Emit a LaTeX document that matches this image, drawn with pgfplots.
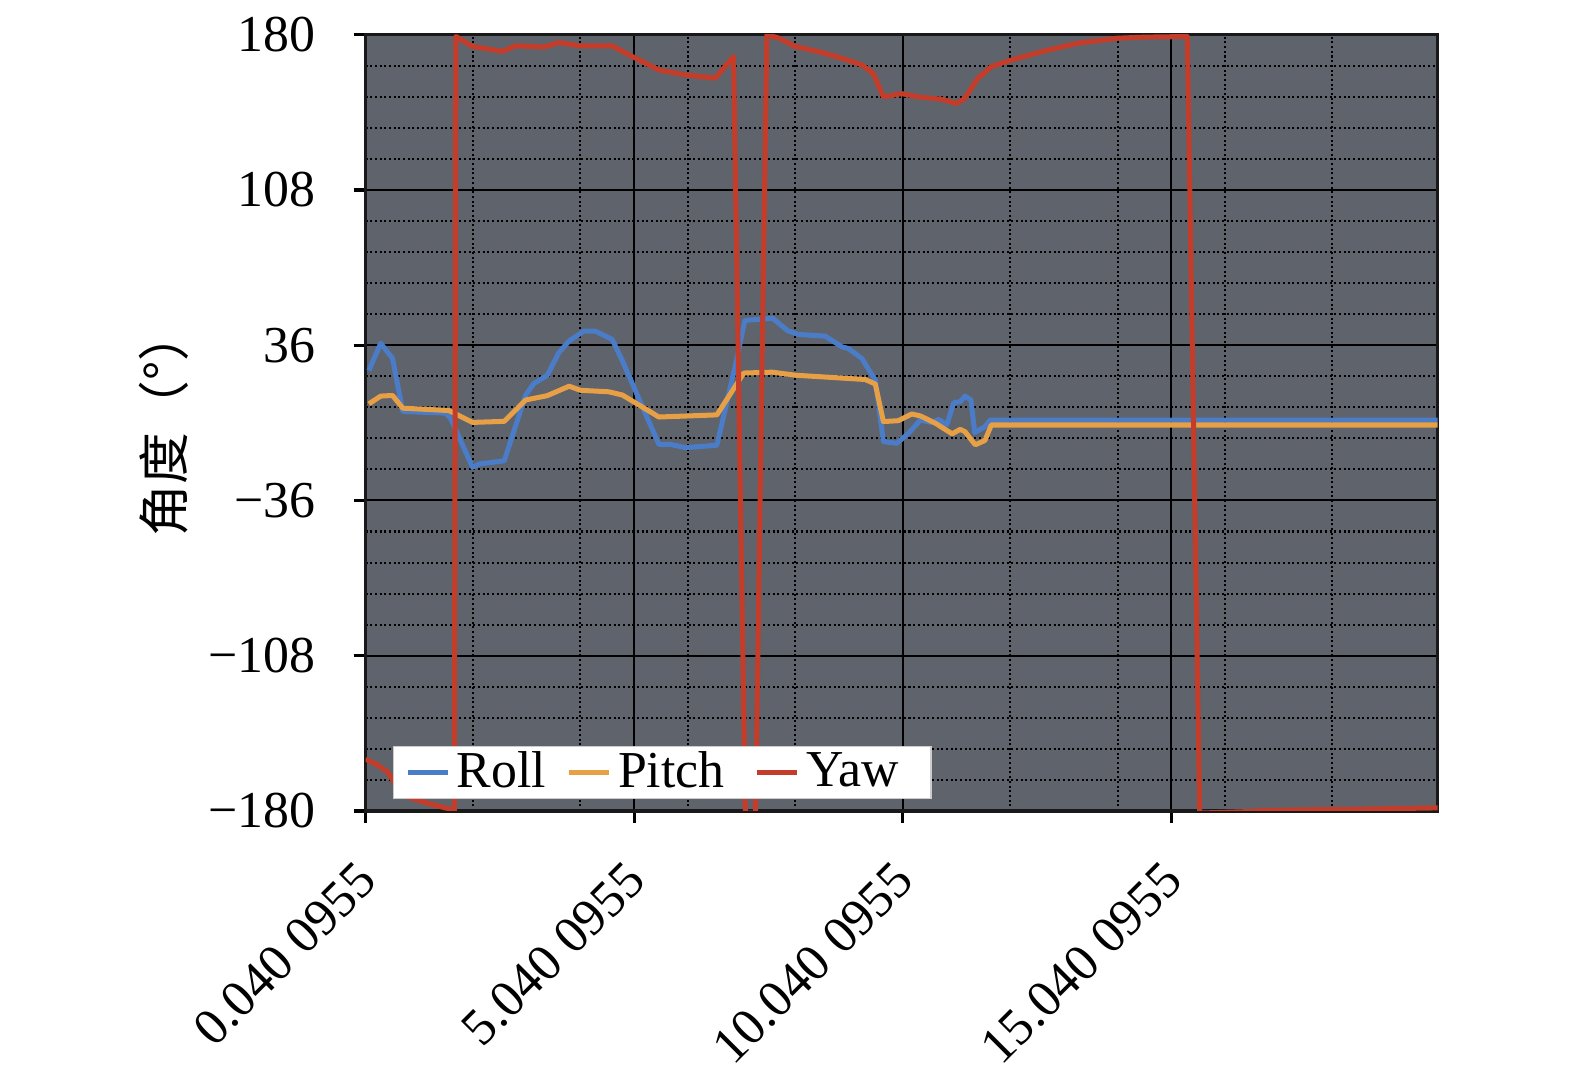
\documentclass[border=0pt]{standalone}
\usepackage{fontspec}
\setmainfont{Liberation Serif}
\newfontfamily\cjk{Noto Sans CJK SC}
\usepackage{pgfplots}
\pgfplotsset{compat=1.18}
\definecolor{bg}{RGB}{95,99,107}
\definecolor{roll}{RGB}{74,124,200}
\definecolor{pitch}{RGB}{232,160,70}
\definecolor{yaw}{RGB}{196,60,42}
\begin{document}
\begin{tikzpicture}
\begin{axis}[
  at={(0pt,0pt)}, anchor=south west,
  scale only axis, width=320.7pt, height=232.2pt,
  xmin=0.0400955, xmax=20.0, ymin=-180, ymax=180,
  xtick={0.0400955,5.0400955,10.0400955,15.0400955},
  xticklabels={0.040 0955,5.040 0955,10.040 0955,15.040 0955},
  minor xtick={2.04,4.04,6.04,8.04,12.04,14.04,16.04,18.04},
  ytick={-180,-108,-36,36,108,180},
  yticklabels={−180,−108,−36,36,108,180},
  minor y tick num=4,
  grid=both,
  major grid style={black, line width=0.6pt},
  minor grid style={black, line width=0.6pt, dash pattern=on 0.6pt off 0.8pt},
  tick pos=left, tick align=outside,
  major tick length=3.6pt, minor tick length=0pt,
  tick style={black, line width=1pt},
  axis line style={black!90, line width=1pt},
  axis background/.style={fill=bg},
  xticklabel style={xshift=3pt, yshift=-12pt, rotate=45, anchor=east, font=\fontsize{15.5}{16}\selectfont},
  yticklabel style={xshift=-8pt, font=\fontsize{15.5}{16}\selectfont},
  ylabel={\cjk 角度（°）},
  ylabel style={yshift=-1pt, font=\fontsize{15.5}{16}\selectfont},
  legend style={at={(0.0253,0.0155)}, anchor=south west, draw=black!20, fill=white,
    inner xsep=3.5pt, inner ysep=1pt, font=\fontsize{15.5}{16}\selectfont, legend columns=3,
    nodes={inner ysep=0.6pt, inner xsep=2pt},
    /tikz/every even column/.append style={column sep=4pt}},
  legend cell align=left,
  legend image code/.code={\draw[#1, line width=1.5pt] (0pt,0pt) -- (12pt,0pt);},
]
\addplot[roll, line width=1.5pt, line join=round, no marks] coordinates {
(0.10,24.3) (0.32,36.9) (0.54,29.9) (0.73,5.3) (1.53,4.5) (1.62,2.2)
(2.03,-20.6) (2.15,-19.1) (2.62,-17.6) (3.02,12.9) (3.17,18.2) (3.42,22)
(3.64,32.7) (3.83,38) (4.1,42.5) (4.32,42.5) (4.63,38.7) (4.82,28.8)
(5.5,-10) (5.72,-10) (5.99,-11.5) (6.58,-10.4) (6.93,27.3) (7.1,47.5)
(7.62,48.5) (7.9,42.7) (8.1,41) (8.6,40.2) (8.91,35.2) (9.03,34.5)
(9.28,29.8) (9.53,19.8) (9.68,-8.7) (9.93,-9.5) (10.15,-4.8) (10.37,1.3)
(10.58,0.1) (10.71,1.6) (10.86,-1) (10.99,9.3) (11.11,9.8) (11.2,12.4)
(11.31,10.6) (11.38,-4.5) (11.57,-1.8) (11.67,1.3) (20.0,1.3)
};
\addlegendentry{Roll}
\addplot[pitch, line width=1.5pt, line join=round, no marks] coordinates {
(0.10,8.8) (0.32,12.4) (0.54,12.7) (0.73,6.8) (1.59,5.7) (2.03,0.2)
(2.62,0.7) (3.02,10.6) (3.42,12.6) (3.83,17) (4.04,15.1) (4.57,14.4)
(4.82,12.9) (5.5,2.7) (6.58,3.7) (7.08,23.1) (7.61,23.5) (8.04,22.1)
(9.34,20.1) (9.53,18) (9.68,0.6) (9.96,1) (10.21,4.1) (10.37,3.2)
(10.65,-0.2) (10.96,-5.1) (11.11,-3) (11.2,-4.1) (11.39,-10.2) (11.57,-8.2)
(11.69,-1.0) (20.0,-1.0)
};
\addlegendentry{Pitch\hspace*{3pt}\mbox{}}
\addplot[yaw, line width=1.5pt, line join=round, no marks] coordinates {
(0.04,-156) (0.25,-158.5) (0.45,-162) (0.65,-170) (0.8,-173.4) (1.2,-176.5)
(1.66,-179.5) (1.69,-181) (1.72,179.2) (2.03,174.6) (2.59,172.3) (2.83,174.9)
(3.36,174.3) (3.64,176.4) (4.01,174.9) (4.63,174.9) (4.88,171.5) (5.5,163.7)
(5.99,161.4) (6.55,159.9) (6.89,169.9) (7.11,-181) (7.3,-181) (7.51,180)
(7.73,178.5) (8.04,174.6) (8.47,172.2) (8.91,169.1) (9.28,166) (9.49,162.1)
(9.68,151.2) (10.02,152.7) (10.33,151.2) (10.76,150.1) (11.04,148.1) (11.19,150.4)
(11.44,159.8) (11.69,165.2) (12.06,168.3) (12.68,172.5) (13.3,176.1) (14.04,178.4)
(14.53,178.9) (15.34,179.2) (15.57,-181) (16.5,-180.3) (16.73,-179.8) (17.5,-179.5)
(18.5,-179.2) (19.5,-178.8) (20.0,-178.6)
};
\addlegendentry{Yaw\hspace*{4pt}\mbox{}}
\end{axis}
\pgfresetboundingbox
\path[use as bounding box] (-109.4pt,-79.4pt) rectangle (361.8pt,242.6pt);
\end{tikzpicture}
\end{document}
